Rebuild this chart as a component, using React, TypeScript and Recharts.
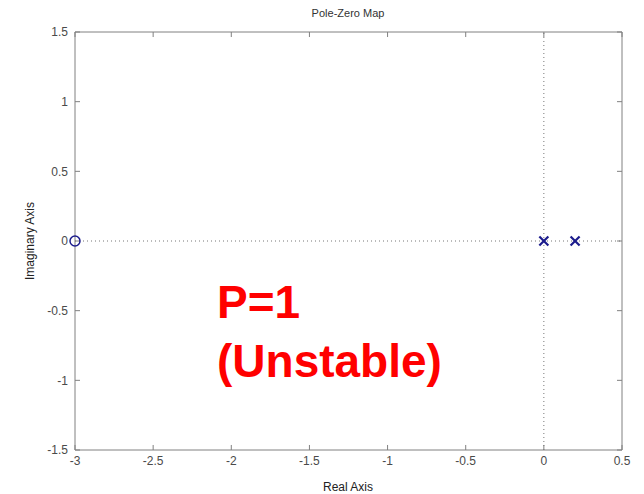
import { ReferenceLine, Scatter, ScatterChart, XAxis, YAxis } from "recharts";

const xTicks = [-3, -2.5, -2, -1.5, -1, -0.5, 0, 0.5];
const yTicks = [-1.5, -1, -0.5, 0, 0.5, 1, 1.5];
const zeros = [{ re: -3, im: 0 }];
const poles = [
  { re: 0, im: 0 },
  { re: 0.2, im: 0 },
];

const xMin = -3;
const xMax = 0.5;
const yMin = -1.5;
const yMax = 1.5;
// inward tick length expressed in data units (about 5px)
const xTickLen = 0.032;
const yTickLen = 0.036;

const axisColor = "#808080";
const markColor = "#1c1c8c";
const tickFont = { fontSize: 12, fill: "#4a4a4a", fontFamily: "Liberation Sans, Arial, sans-serif" };

function ZeroMark(props: any) {
  const { cx, cy } = props;
  return <circle cx={cx} cy={cy} r={5} fill="none" stroke={markColor} strokeWidth={1.5} />;
}

function PoleMark(props: any) {
  const { cx, cy } = props;
  const s = 4.5;
  return (
    <g stroke={markColor} strokeWidth={2.2}>
      <line x1={cx - s} y1={cy - s} x2={cx + s} y2={cy + s} />
      <line x1={cx - s} y1={cy + s} x2={cx + s} y2={cy - s} />
    </g>
  );
}

export default function App() {
  return (
    <div style={{ position: "absolute", left: 0, top: 0, width: 644, height: 494, background: "#fff" }}>
      <ScatterChart width={644} height={494} margin={{ top: 32, left: 35, right: 22, bottom: 14 }}>
        <XAxis
          type="number"
          dataKey="re"
          domain={[xMin, xMax]}
          ticks={xTicks}
          interval={0}
          height={30}
          stroke={axisColor}
          tickLine={false}
          tickSize={0}
          tickMargin={6}
          tick={tickFont}
        />
        <YAxis
          type="number"
          dataKey="im"
          domain={[yMin, yMax]}
          ticks={yTicks}
          interval={0}
          width={40}
          stroke={axisColor}
          tickLine={false}
          tickSize={0}
          tickMargin={7}
          tick={tickFont}
        />
        <ReferenceLine x={xMax} stroke={axisColor} />
        <ReferenceLine y={yMax} stroke={axisColor} />
        {xTicks.map((t) => (
          <ReferenceLine key={`b${t}`} segment={[{ x: t, y: yMin }, { x: t, y: yMin + yTickLen }]} stroke={axisColor} />
        ))}
        {xTicks.map((t) => (
          <ReferenceLine key={`t${t}`} segment={[{ x: t, y: yMax }, { x: t, y: yMax - yTickLen }]} stroke={axisColor} />
        ))}
        {yTicks.map((t) => (
          <ReferenceLine key={`l${t}`} segment={[{ x: xMin, y: t }, { x: xMin + xTickLen, y: t }]} stroke={axisColor} />
        ))}
        {yTicks.map((t) => (
          <ReferenceLine key={`r${t}`} segment={[{ x: xMax, y: t }, { x: xMax - xTickLen, y: t }]} stroke={axisColor} />
        ))}
        <ReferenceLine x={0} stroke="#777" strokeDasharray="1 3" />
        <ReferenceLine y={0} stroke="#777" strokeDasharray="1 3" />
        <Scatter data={zeros} shape={<ZeroMark />} isAnimationActive={false} />
        <Scatter data={poles} shape={<PoleMark />} isAnimationActive={false} />
      </ScatterChart>
      <svg
        width={644}
        height={494}
        style={{ position: "absolute", left: 0, top: 0, pointerEvents: "none" }}
        fontFamily="Liberation Sans, Arial, sans-serif"
      >
        <text x={348} y={17} textAnchor="middle" fontSize={11} fill="#333">
          Pole-Zero Map
        </text>
        <text x={348} y={491} textAnchor="middle" fontSize={12} fill="#222">
          Real Axis
        </text>
        <text x={34} y={241} textAnchor="middle" fontSize={12} fill="#222" transform="rotate(-90 34 241)">
          Imaginary Axis
        </text>
        <text x={217} y={318} fontSize={46} fontWeight="bold" fill="#ff0000">
          P=1
        </text>
        <text x={217} y={377} fontSize={46} fontWeight="bold" fill="#ff0000">
          (Unstable)
        </text>
      </svg>
    </div>
  );
}
